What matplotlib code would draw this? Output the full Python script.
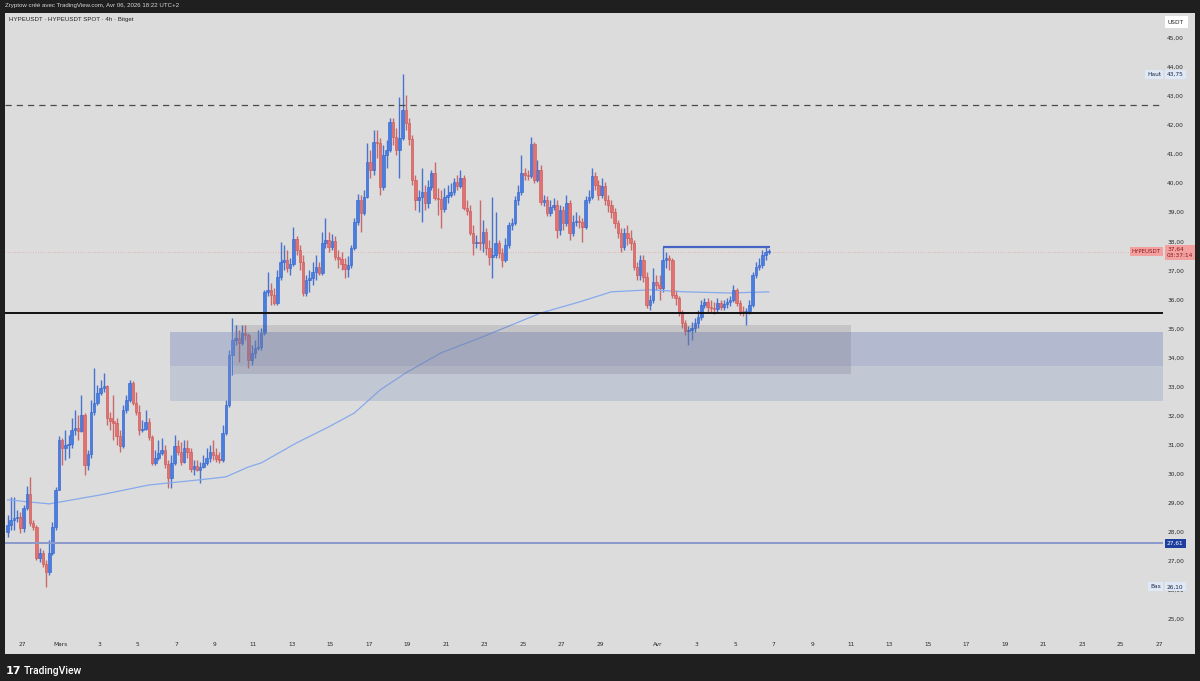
import matplotlib
matplotlib.use("Agg")
import matplotlib.pyplot as plt
import matplotlib.transforms as mtransforms
from matplotlib.patches import Rectangle
import numpy as np
import pandas as pd

plt.rcParams['font.family'] = ['DejaVu Sans']

# ---------------- data ----------------
start_time = '2026-02-26 06:00'   # first 4h candle
first_open = 28.00
closes = [28.24, 28.41, 28.48, 28.51, 28.13, 28.82, 29.30, 28.31, 28.17, 27.10,
          27.27, 26.89, 26.62, 27.27, 28.17, 29.44, 31.16, 30.89, 30.99, 31.02,
          31.51, 31.58, 31.47, 32.02, 30.30, 30.68, 32.12, 32.44, 32.78, 32.95,
          33.02, 31.92, 31.81, 31.75, 31.30, 30.95, 32.19, 32.54, 33.12, 32.44,
          32.12, 31.51, 31.54, 31.78, 31.26, 30.37, 30.54, 30.71, 30.82, 30.34,
          29.86, 30.37, 30.95, 30.75, 30.41, 30.89, 30.75, 30.16, 30.27, 30.13,
          30.23, 30.37, 30.54, 30.75, 30.65, 30.51, 30.47, 31.40, 32.37, 34.09,
          34.60, 34.67, 34.50, 34.84, 34.77, 33.92, 34.16, 34.33, 34.36, 34.84,
          36.26, 36.33, 36.15, 35.88, 36.77, 37.29, 37.36, 37.08, 37.22, 38.08,
          37.70, 37.29, 36.22, 36.67, 36.74, 36.94, 37.11, 36.91, 37.94, 38.05,
          37.80, 38.01, 37.46, 37.39, 37.22, 37.05, 37.18, 37.77, 38.67, 39.42,
          38.98, 39.53, 40.73, 40.46, 41.42, 41.38, 39.87, 40.97, 41.14, 42.11,
          41.59, 41.14, 41.56, 42.52, 42.07, 41.52, 40.11, 39.42, 39.53, 39.70,
          39.32, 39.87, 40.35, 39.49, 39.46, 39.11, 39.53, 39.60, 39.70, 40.04,
          39.91, 40.18, 39.15, 39.04, 38.29, 37.94, 37.98, 37.94, 38.32, 37.77,
          37.46, 37.53, 37.94, 37.60, 37.36, 37.87, 38.56, 38.63, 39.42, 39.70,
          40.35, 40.28, 40.25, 41.35, 40.11, 40.46, 39.35, 39.42, 38.98, 39.18,
          39.25, 38.39, 39.08, 38.63, 39.32, 38.29, 38.67, 38.70, 38.67, 38.49,
          39.42, 39.53, 40.25, 39.94, 39.60, 39.91, 39.42, 39.25, 39.01, 38.63,
          38.29, 37.80, 38.29, 38.12, 37.94, 37.12, 36.84, 37.36, 36.77, 35.81,
          35.98, 36.60, 36.50, 36.39, 37.36, 37.43, 37.36, 36.15, 36.05, 35.53,
          35.19, 34.91, 34.95, 35.02, 35.19, 35.40, 35.81, 35.91, 35.74, 35.71,
          35.67, 35.88, 35.74, 35.84, 35.91, 35.98, 36.33, 35.88, 35.60, 35.57,
          35.60, 35.81, 36.84, 37.12, 37.18, 37.53, 37.63, 37.64]
highs = [28.58, 29.20, 29.20, 28.75, 28.68, 28.92, 29.58, 29.89, 28.41, 28.24,
         27.44, 27.37, 27.03, 27.72, 28.34, 29.55, 31.30, 31.23, 31.51, 31.33,
         31.92, 32.19, 32.02, 32.71, 32.09, 30.82, 32.54, 33.64, 33.06, 33.23,
         33.47, 33.06, 32.12, 32.71, 31.92, 31.51, 32.37, 32.71, 33.23, 33.19,
         32.81, 32.37, 31.85, 32.19, 31.92, 31.33, 30.82, 31.16, 31.23, 30.99,
         30.47, 30.65, 31.33, 31.16, 31.09, 31.16, 31.16, 30.89, 30.47, 30.47,
         30.41, 30.65, 30.89, 30.99, 31.16, 30.89, 30.75, 31.68, 32.54, 34.26,
         35.36, 35.12, 34.95, 35.12, 35.12, 34.84, 34.43, 34.60, 34.95, 35.02,
         36.33, 36.94, 36.57, 36.39, 37.01, 37.98, 37.87, 37.70, 37.43, 38.49,
         38.18, 37.87, 37.53, 36.84, 37.01, 37.29, 37.53, 37.29, 38.32, 38.80,
         38.32, 38.25, 38.18, 37.70, 37.63, 37.43, 37.49, 37.87, 38.80, 39.63,
         39.60, 39.77, 41.38, 41.14, 41.83, 41.83, 41.56, 41.32, 41.49, 42.25,
         42.25, 41.90, 42.97, 43.75, 43.04, 42.25, 41.66, 40.29, 39.77, 40.53,
         39.94, 40.11, 40.46, 40.73, 39.84, 39.77, 39.84, 39.94, 40.01, 40.18,
         40.29, 40.46, 40.29, 39.42, 39.25, 38.56, 38.22, 39.42, 38.73, 38.46,
         38.05, 39.53, 39.01, 38.05, 37.77, 38.12, 38.67, 38.80, 39.56, 39.94,
         40.97, 40.53, 40.46, 41.59, 41.42, 40.80, 40.63, 39.60, 39.56, 39.42,
         39.49, 39.42, 39.25, 39.22, 39.60, 39.42, 38.91, 39.01, 38.91, 38.80,
         39.56, 39.77, 40.53, 40.39, 40.11, 40.18, 40.04, 39.60, 39.42, 39.15,
         38.73, 38.46, 38.46, 38.56, 38.39, 38.05, 37.29, 37.53, 37.53, 36.94,
         36.15, 37.08, 36.84, 36.84, 37.80, 37.63, 37.53, 37.43, 36.33, 36.12,
         35.64, 35.29, 35.09, 35.22, 35.36, 35.64, 35.98, 36.05, 36.05, 35.98,
         35.91, 36.05, 35.98, 35.98, 36.05, 36.12, 36.50, 36.39, 35.98, 35.77,
         35.71, 35.98, 36.94, 37.29, 37.43, 37.70, 37.80, 37.73]
lows = [27.82, 28.06, 28.06, 28.34, 27.96, 28.00, 28.75, 28.20, 28.06, 27.03,
        26.96, 26.79, 26.10, 26.52, 27.20, 28.06, 29.51, 30.30, 30.47, 30.54,
        30.89, 31.33, 31.16, 31.44, 29.96, 30.13, 30.54, 32.02, 32.37, 32.71,
        32.81, 31.68, 31.51, 31.16, 30.99, 30.75, 30.89, 32.09, 32.47, 32.37,
        32.02, 31.33, 31.44, 31.51, 31.16, 30.30, 30.30, 30.47, 30.65, 30.20,
        29.51, 29.51, 30.30, 30.65, 30.30, 30.37, 30.54, 30.06, 29.96, 30.10,
        29.68, 30.20, 30.30, 30.41, 30.47, 30.41, 30.37, 30.41, 31.33, 32.30,
        33.40, 34.43, 33.85, 34.43, 34.60, 33.64, 33.74, 33.98, 34.26, 34.26,
        34.77, 36.12, 35.81, 35.81, 35.81, 36.67, 37.01, 36.94, 36.84, 37.15,
        37.53, 37.01, 36.12, 36.12, 36.26, 36.50, 36.67, 36.84, 36.84, 37.77,
        37.63, 37.70, 37.36, 37.08, 37.01, 36.74, 36.77, 37.08, 37.70, 38.56,
        38.32, 38.91, 39.49, 40.18, 40.29, 40.87, 39.60, 39.77, 40.53, 41.08,
        41.32, 40.97, 40.18, 41.49, 41.83, 41.32, 39.94, 39.08, 39.01, 38.67,
        39.08, 39.15, 39.77, 39.42, 38.91, 38.46, 39.01, 39.32, 39.53, 39.60,
        39.77, 39.84, 39.08, 38.91, 38.22, 37.53, 37.77, 37.70, 37.63, 37.53,
        37.18, 36.74, 37.43, 37.43, 37.12, 37.29, 37.77, 38.39, 38.56, 39.25,
        39.60, 40.11, 40.11, 40.18, 40.01, 40.04, 39.25, 39.22, 38.87, 38.87,
        39.08, 38.12, 38.22, 38.39, 38.53, 38.05, 38.18, 38.53, 38.46, 37.98,
        38.43, 39.32, 39.46, 39.77, 39.42, 39.49, 39.25, 39.01, 38.80, 38.46,
        38.12, 37.63, 37.70, 37.87, 37.70, 37.01, 36.67, 36.67, 36.60, 35.71,
        35.64, 35.88, 36.33, 35.98, 36.26, 37.08, 37.01, 36.05, 35.81, 35.43,
        35.02, 34.77, 34.43, 34.60, 34.88, 35.02, 35.29, 35.71, 35.57, 35.57,
        35.50, 35.57, 35.64, 35.64, 35.71, 35.77, 35.91, 35.77, 35.46, 35.43,
        35.12, 35.50, 35.74, 36.74, 37.01, 37.08, 37.36, 37.56]

# moving average read at sample points
ma_times = ['2026-02-26 06:00', '2026-02-28 10:00', '2026-03-03 02:00', '2026-03-05 14:00',
            '2026-03-08 06:00', '2026-03-09 14:00', '2026-03-10 18:00', '2026-03-11 10:00',
            '2026-03-13 06:00', '2026-03-14 22:00', '2026-03-16 06:00', '2026-03-17 14:00',
            '2026-03-18 22:00', '2026-03-20 18:00', '2026-03-22 18:00', '2026-03-25 22:00',
            '2026-03-27 22:00', '2026-03-29 14:00', '2026-03-31 14:00', '2026-04-02 10:00',
            '2026-04-04 18:00', '2026-04-06 18:00']
ma_vals = [29.10, 28.96, 29.27, 29.61, 29.79, 29.89, 30.23, 30.37, 31.06, 31.61, 32.09,
           32.88, 33.47, 34.16, 34.67, 35.53, 35.91, 36.26, 36.33, 36.26, 36.22, 36.26]

# drawings
dashed_level = 42.69
black_level = 35.52
blue_level = 27.61
resistance_level = 37.80
resistance_span = ['2026-04-01 06:00', '2026-04-06 20:00']
zone_blue = [32.50, 34.88]
zone_blue_inner = [33.71, 34.88]
zone_blue_start = '2026-03-06 16:00'
zone_gray = [33.43, 35.12]
zone_gray_span = ['2026-03-10 00:00', '2026-04-11 00:00']
last_price = 37.64
high_mark = 43.75
low_mark = 26.10

# axis labels
ytick_vals = list(range(25, 46))
xtick_dates = ['2026-02-27', '2026-03-01', '2026-03-03', '2026-03-05', '2026-03-07', '2026-03-09',
               '2026-03-11', '2026-03-13', '2026-03-15', '2026-03-17', '2026-03-19', '2026-03-21',
               '2026-03-23', '2026-03-25', '2026-03-27', '2026-03-29', '2026-04-01', '2026-04-03',
               '2026-04-05', '2026-04-07', '2026-04-09', '2026-04-11', '2026-04-13', '2026-04-15',
               '2026-04-17', '2026-04-19', '2026-04-21', '2026-04-23', '2026-04-25', '2026-04-27']
month_names = {3: 'Mars', 4: 'Avr'}

# ---------------- drawing ----------------
W, H = 1200, 681
BG = '#dcdcdc'
DARK = '#1f1f1f'
UP, UP_EDGE = '#4a7de0', '#2f62cc'
DN, DN_EDGE = '#e57070', '#c95555'
REF = pd.Timestamp('2026-03-01')


def to_day(t):
    return (pd.to_datetime(t) - REF) / pd.Timedelta(days=1)


fig = plt.figure(figsize=(W / 100, H / 100), dpi=100, facecolor=DARK)
panel = Rectangle((5 / W, 1 - 654 / H), 1190 / W, 641 / H, transform=fig.transFigure,
                  facecolor=BG, edgecolor='none', zorder=-5)
fig.patches.append(panel)
ax = fig.add_axes([5 / W, 1 - 634 / H, 1158 / W, 621 / H])
ax.set_zorder(1)
ax.set_facecolor(BG)
for s in ax.spines.values():
    s.set_visible(False)

c = np.array(closes)
o = np.concatenate([[first_open], c[:-1]])
h = np.maximum(np.array(highs), np.maximum(o, c))
l = np.minimum(np.array(lows), np.minimum(o, c))
times = pd.date_range(start_time, periods=len(c), freq='4h')
x = np.asarray(to_day(times))
up = c >= o

ax.vlines(x[up], l[up], h[up], colors=UP_EDGE, linewidth=1.0, alpha=0.85, zorder=2)
ax.vlines(x[~up], l[~up], h[~up], colors=DN_EDGE, linewidth=1.0, alpha=0.85, zorder=2)
bw = 0.78 / 6
body = np.maximum(np.abs(c - o), 0.04)
ax.bar(x[up], body[up], bottom=np.minimum(o, c)[up], width=bw, color=UP, edgecolor=UP_EDGE,
       linewidth=0.4, zorder=2.5)
ax.bar(x[~up], body[~up], bottom=np.minimum(o, c)[~up], width=bw, color=DN, edgecolor=DN_EDGE,
       linewidth=0.4, zorder=2.5)

# moving average
ax.plot(np.asarray(to_day(pd.to_datetime(ma_times))), ma_vals, color='#86aaec',
        linewidth=0.9, zorder=2.2, solid_joinstyle='round')

XMIN, XMAX = -2.88, 57.21
ax.set_xlim(XMIN, XMAX)
ax.set_ylim(24.48, 45.86)

# zones
zb0 = to_day(zone_blue_start)
ax.add_patch(Rectangle((zb0, zone_blue[0]), XMAX - zb0 + 1, zone_blue[1] - zone_blue[0],
                       facecolor='#7f8fc0', alpha=0.27, edgecolor='none', zorder=3))
ax.add_patch(Rectangle((zb0, zone_blue_inner[0]), XMAX - zb0 + 1, zone_blue_inner[1] - zone_blue_inner[0],
                       facecolor='#7f8fc0', alpha=0.22, edgecolor='none', zorder=3))
zg0, zg1 = to_day(zone_gray_span[0]), to_day(zone_gray_span[1])
ax.add_patch(Rectangle((zg0, zone_gray[0]), zg1 - zg0, zone_gray[1] - zone_gray[0],
                       facecolor='#505060', alpha=0.16, edgecolor='none', zorder=3))

# levels
ax.axhline(dashed_level, color='#4a4a4a', linewidth=0.9, dashes=(5, 4), zorder=3)
ax.axhline(black_level, color='#111111', linewidth=1.4, zorder=3)
ax.axhline(blue_level, color='#8a9acb', linewidth=1.4, zorder=3)
ax.axhline(last_price, color='#e4a2a2', linewidth=0.6, linestyle=(0, (1, 2)), zorder=1.5)
ax.hlines(resistance_level, to_day(resistance_span[0]), to_day(resistance_span[1]),
          color='#4563c4', linewidth=1.6, zorder=3.5)

# ticks
ax.yaxis.tick_right()
ax.set_yticks(ytick_vals)
ax.set_yticklabels([f"{v},00" for v in ytick_vals])
xd = pd.to_datetime(xtick_dates)
ax.set_xticks(np.asarray(to_day(xd)))
ax.set_xticklabels([month_names[d.month] if d.day == 1 else str(d.day) for d in xd])
ax.tick_params(axis='y', length=0, pad=3, labelsize=4.2, labelcolor='#2b2b2b')
ax.tick_params(axis='x', length=0, pad=5.5, labelsize=4.2, labelcolor='#2b2b2b')

tr = mtransforms.blended_transform_factory(fig.transFigure, ax.transData)


def box(xpx, y, s, fc, tc, ha='left', fs=4.2, pad=0.35, trans=tr, **kw):
    fig.text(xpx / W, y, s, transform=trans, ha=ha, va='center', fontsize=fs, color=tc,
             bbox=dict(boxstyle=f'square,pad={pad}', fc=fc, ec='none'), zorder=10, **kw)


box(1167, high_mark, '43,75', '#dfe8f6', '#1e2a44')
box(1161, high_mark, 'Haut', '#dfe8f6', '#1e2a44', ha='right')
box(1167, blue_level, '27,61', '#1d3e9e', 'white')
box(1167, low_mark, '26,10', '#dfe8f6', '#1e2a44')
box(1161, low_mark, 'Bas', '#dfe8f6', '#1e2a44', ha='right')
box(1161, last_price, 'HYPEUSDT', '#f3a0a0', '#8b1a1a', ha='right', fs=4.0)
fig.text(1167 / W, last_price + 0.17, '37,64\n03:37:14', transform=tr, ha='left', va='top',
         fontsize=4.2, color='#8b1a1a', linespacing=1.2,
         bbox=dict(boxstyle='square,pad=0.35', fc='#f3a0a0', ec='none'), zorder=10)
fig.text(1176 / W, 1 - 22 / H, 'USDT', ha='center', va='center', fontsize=4.2, color='#222222',
         bbox=dict(boxstyle='square,pad=0.6', fc='white', ec='none'))

# header texts
fig.text(5 / W, 1 - 6 / H, 'Zryptow créé avec TradingView.com, Avr 06, 2026 18:22 UTC+2',
         color='#d8d8d8', fontsize=4.4, va='center', ha='left', family='Liberation Sans')
fig.text(9 / W, 1 - 20 / H, 'HYPEUSDT · HYPEUSDT SPOT · 4h · Bitget', color='#222222',
         fontsize=4.4, va='center', ha='left', family='Liberation Sans')

# footer logo
fig.text(6 / W, 1 - 671 / H, '17', color='white', fontsize=8, fontweight='heavy',
         va='center', ha='left', family='DejaVu Sans')
fig.text(24 / W, 1 - 671 / H, 'TradingView', color='white', fontsize=7.5, va='center',
         ha='left', family='Roboto', fontweight='medium')

fig.savefig('out.png', dpi=100, facecolor=DARK)
